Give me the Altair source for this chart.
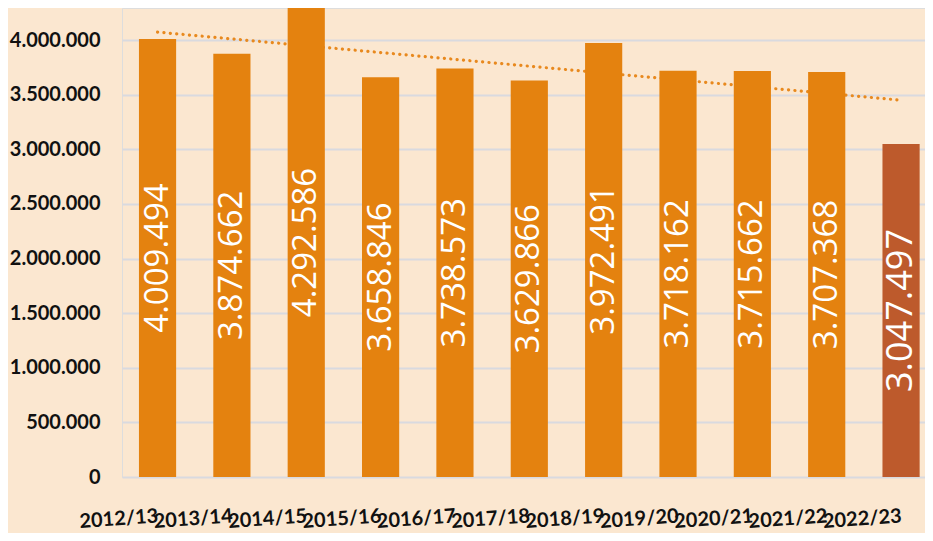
import altair as alt
import pandas as pd

years = ["2012/13", "2013/14", "2014/15", "2015/16", "2016/17", "2017/18",
         "2018/19", "2019/20", "2020/21", "2021/22", "2022/23"]
values = [4009494, 3874662, 4292586, 3658846, 3738573, 3629866,
          3972491, 3718162, 3715662, 3707368, 3047497]
highlight_year = "2022/23"
y_ticks = [0, 500000, 1000000, 1500000, 2000000, 2500000, 3000000, 3500000, 4000000]

BG = "#FBE7D0"
BAR = "#E4820F"
BAR_HL = "#BD5A2C"
TREND = "#E8891E"

df = pd.DataFrame({"year": years, "value": values,
                   "idx": list(range(1, len(years) + 1))})

x_enc = alt.X(
    "year:N", sort=years, title=None,
    scale=alt.Scale(paddingInner=0.5, paddingOuter=0.15, align=0.76),
    axis=alt.Axis(labelAngle=356, labelAlign="right", labelBaseline="top",
                  labelPadding=29, labelFont="Lato", labelFontSize=20,
                  labelFontWeight="bold", labelColor="#111111", ticks=False,
                  domain=False, grid=False, labelOverlap=False),
)
y_scale = alt.Scale(domain=[0, 4293000], nice=False)
y_enc = alt.Y(
    "value:Q", title=None, scale=y_scale,
    axis=alt.Axis(values=y_ticks, format=",.0f", labelFont="Lato",
                  labelFontSize=20, labelFontWeight="bold", labelColor="#111111",
                  labelPadding=22, ticks=False, domain=False,
                  gridColor="#D9DADF", gridWidth=2),
)

is_hl = alt.datum.year == highlight_year

trend = (
    alt.Chart(df)
    .transform_regression("idx", "value", method="linear")
    .transform_lookup(lookup="idx", from_=alt.LookupData(df, "idx", ["year"]))
    .mark_line(color=TREND, strokeWidth=3.2, strokeDash=[0.1, 6.3], strokeCap="round")
    .encode(x=alt.X("year:N", sort=years), y=alt.Y("value:Q", scale=y_scale))
)

bars = alt.Chart(df).mark_bar().encode(
    x=x_enc, y=y_enc,
    color=alt.condition(is_hl, alt.value(BAR_HL), alt.value(BAR)),
)

labels = (
    alt.Chart(df)
    .transform_calculate(mid="datum.value / 2")
    .mark_text(angle=270, color="white", font="Open Sans", align="center",
               baseline="middle")
    .encode(
        x=alt.X("year:N", sort=years),
        y=alt.Y("mid:Q", scale=y_scale),
        text=alt.Text("value:Q", format=",.0f"),
        size=alt.condition(is_hl, alt.value(36), alt.value(33)),
    )
)

chart = (
    alt.layer(trend, bars, labels)
    .properties(width=803, height=469,
                padding={"left": 114, "top": 0, "right": 0, "bottom": 56},
                autosize=alt.AutoSizeParams(type="none"),
                background=BG)
    .configure_view(stroke=None)
    .configure(locale={"number": {"decimal": ",", "thousands": ".",
                                  "grouping": [3], "currency": ["", " €"]}})
)

chart.save("out.html", embed_options={"renderer": "svg", "actions": False})
